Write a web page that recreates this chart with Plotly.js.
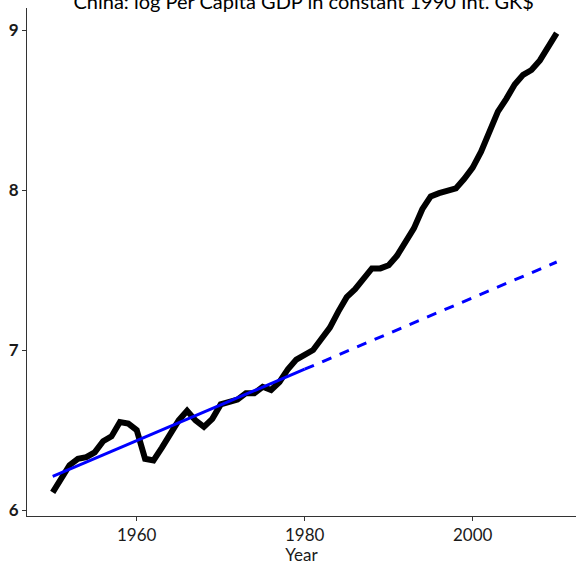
<!DOCTYPE html>
<html>
<head>
<meta charset="utf-8">
<script src="https://cdn.plot.ly/plotly-3.0.1.min.js"></script>
<style>
  html, body { margin: 0; padding: 0; background: #ffffff; }
  #chart { width: 576px; height: 565px; }
</style>
</head>
<body>
<div id="chart"></div>
<script>
// China, log per capita GDP (constant 1990 Int. GK$), 1950-2010
const years = [
  1950, 1951, 1952, 1953, 1954, 1955, 1956, 1957, 1958, 1959,
  1960, 1961, 1962, 1963, 1964, 1965, 1966, 1967, 1968, 1969,
  1970, 1971, 1972, 1973, 1974, 1975, 1976, 1977, 1978, 1979,
  1980, 1981, 1982, 1983, 1984, 1985, 1986, 1987, 1988, 1989,
  1990, 1991, 1992, 1993, 1994, 1995, 1996, 1997, 1998, 1999,
  2000, 2001, 2002, 2003, 2004, 2005, 2006, 2007, 2008, 2009,
  2010
];
const logGdp = [
  6.11, 6.20, 6.28, 6.32, 6.33, 6.36, 6.43, 6.46, 6.55, 6.54,
  6.50, 6.32, 6.31, 6.39, 6.48, 6.56, 6.62, 6.56, 6.52, 6.57,
  6.66, 6.68, 6.69, 6.73, 6.73, 6.77, 6.75, 6.80, 6.88, 6.94,
  6.97, 7.00, 7.07, 7.14, 7.24, 7.33, 7.38, 7.44, 7.51, 7.51,
  7.53, 7.59, 7.67, 7.76, 7.88, 7.96, 7.98, 8.00, 8.01, 8.07,
  8.14, 8.24, 8.37, 8.49, 8.57, 8.66, 8.72, 8.75, 8.81, 8.90,
  8.98
];

// Fitted 1950-1980 trend and its extension to 2010
const trendYears = [1950, 1980];
const trendVals = [6.21, 6.88];
const projYears = [1980, 2010];
const projVals = [6.88, 7.55];

const xTicks = [1960, 1980, 2000];
const yTicks = [6, 7, 8, 9];

const FONT = 'Lato, "Open Sans", "DejaVu Sans", sans-serif';

const traces = [
  {
    x: years, y: logGdp, type: 'scatter', mode: 'lines',
    line: { color: '#000000', width: 6, shape: 'linear' },
    hoverinfo: 'skip'
  },
  {
    x: projYears, y: projVals, type: 'scatter', mode: 'lines',
    line: { color: '#0000ff', width: 3, dash: '10px,9px' },
    hoverinfo: 'skip'
  },
  {
    x: trendYears, y: trendVals, type: 'scatter', mode: 'lines',
    line: { color: '#0000ff', width: 3 },
    hoverinfo: 'skip'
  }
];

const layout = {
  width: 576, height: 565,
  margin: { l: 27, r: 0, t: 8, b: 49, pad: 0 },
  paper_bgcolor: '#ffffff', plot_bgcolor: '#ffffff',
  showlegend: false,
  font: { family: FONT, color: '#1a1a1a', size: 17 },
  title: {
    text: 'China: log Per Capita GDP in constant 1990 Int. GK$',
    font: { family: FONT, size: 20, color: '#000000' },
    xref: 'paper', x: 0.504, xanchor: 'center',
    yref: 'container', y: 0.996, yanchor: 'middle'
  },
  xaxis: {
    range: [1946.94, 2012.30],
    tickvals: xTicks, ticktext: xTicks.map(String),
    showgrid: false, zeroline: false,
    showline: true, linecolor: '#333333', linewidth: 1,
    ticks: 'outside', ticklen: 4, tickcolor: '#333333', tickwidth: 1,
    tickfont: { family: FONT, size: 17, color: '#1a1a1a' },
    title: { text: 'Year', font: { family: FONT, size: 17, color: '#1a1a1a' }, standoff: 2 }
  },
  yaxis: {
    range: [5.9625, 9.1375],
    tickvals: yTicks, ticktext: yTicks.map(String),
    showgrid: false, zeroline: false,
    showline: true, linecolor: '#333333', linewidth: 1,
    ticks: 'outside', ticklen: 4, tickcolor: '#333333', tickwidth: 1,
    tickfont: { family: FONT, size: 17, color: '#1a1a1a', weight: 'bold' }
  }
};

Plotly.newPlot('chart', traces, layout, { displayModeBar: false, staticPlot: true });
</script>
</body>
</html>
